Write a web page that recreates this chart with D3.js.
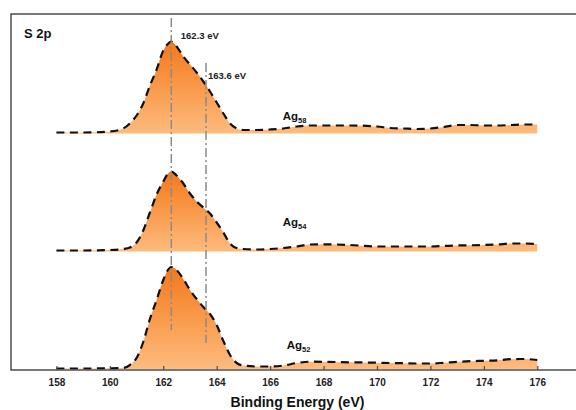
<!DOCTYPE html>
<html>
<head>
<meta charset="utf-8">
<script src="https://cdn.jsdelivr.net/npm/d3@7"></script>
<style>
  html, body { margin: 0; padding: 0; background: #fff; }
  svg { display: block; font-family: "Liberation Sans", Arial, sans-serif; }
</style>
</head>
<body>
<svg id="chart" width="576" height="410"></svg>
<script>
// S 2p XPS spectra of three Ag clusters (stacked, arbitrary intensity units)
const energy = [158, 159, 160, 160.5, 160.75, 161, 161.25, 161.5, 161.75, 162, 162.15, 162.3,
  162.5, 162.75, 163, 163.25, 163.5, 163.75, 164, 164.25, 164.5, 164.75, 165, 165.5, 166,
  166.5, 167, 167.5, 168, 169, 170, 170.5, 171, 171.5, 172, 172.5, 173, 173.5, 174, 174.5,
  175, 175.5, 176];

const ag58 = [1, 1, 2, 5, 10, 18, 30, 48, 64, 83, 89, 92,
  87, 77, 69, 61, 52, 42, 31, 20, 10, 5, 3.5, 3.5, 4,
  5, 7, 8, 8, 8, 7, 5.5, 5, 4.5, 5, 6.5, 8.5, 8.5, 8, 8,
  8.5, 9, 9];

const ag54 = [1, 1, 1.5, 2.5, 4, 9, 21, 39, 57, 70, 77, 80,
  76, 68, 58, 50, 44, 38, 29, 19, 8, 3.5, 2.5, 2, 2.5,
  3.5, 5, 7, 7.2, 6.5, 5, 5, 5, 5, 5, 5.5, 6, 6.2, 6.5, 7,
  8, 8, 7.5];

const ag52 = [0.5, 0.5, 0.7, 1, 4, 11, 27, 50, 69, 89, 98, 102,
  99, 90, 79, 70, 62, 55, 44, 28, 14, 6, 3.5, 2.5, 2.5,
  3.5, 6, 7.3, 7.2, 6.7, 6.3, 6, 5.8, 5.5, 5.5, 6.2, 7.2, 7.8, 8.2, 8.7,
  9.8, 10, 9];

const seriesNames = ["Ag58", "Ag54", "Ag52"];
const seriesValues = [ag58, ag54, ag52];
const stackOffsets = [236.5, 118.5, 1];          // vertical offset of each trace (a.u.)

const xTicks = [158, 160, 162, 164, 166, 168, 170, 172, 174, 176];
const xDomain = [156.3, 177.45];
const yDomain = [0, 356];

// peak positions marked with dash-dot guides, and their vertical extent (a.u.)
const peakEnergies = [162.3, 163.6];
const peakLabels = ["162.3 eV", "163.6 eV"];
const peakSpans = [[40, 352], [27, 307]];

// ---- layout ----
const svg = d3.select("#chart");
const plotLeft = 11, plotRight = 576, plotTop = 14, plotBottom = 370;

const x = d3.scaleLinear().domain(xDomain).range([plotLeft, plotRight]);
const y = d3.scaleLinear().domain(yDomain).range([plotBottom, plotTop]);

const defs = svg.append("defs");
const grad = defs.append("linearGradient")
  .attr("id", "peakFill")
  .attr("x1", 0).attr("y1", 0).attr("x2", 0).attr("y2", 1);
grad.append("stop").attr("offset", 0).attr("stop-color", "#f4771a");
grad.append("stop").attr("offset", 0.5).attr("stop-color", "#f99a4b");
grad.append("stop").attr("offset", 1).attr("stop-color", "#fdbb7e");

// filled traces
seriesValues.forEach((vals, i) => {
  const off = stackOffsets[i];
  const pts = energy.map((e, k) => [e, vals[k]]);
  const area = d3.area()
    .x(d => x(d[0]))
    .y0(y(off))
    .y1(d => y(off + d[1]))
    .curve(d3.curveMonotoneX);
  const line = d3.line()
    .x(d => x(d[0]))
    .y(d => y(off + d[1]))
    .curve(d3.curveMonotoneX);
  const g = svg.append("g").attr("class", "trace");
  g.append("path").attr("d", area(pts)).attr("fill", "url(#peakFill)");
  g.append("path").attr("d", line(pts))
    .attr("fill", "none")
    .attr("stroke", "#111")
    .attr("stroke-width", 2.2)
    .attr("stroke-dasharray", "8,5.5");
});

// dash-dot peak guides
peakEnergies.forEach((e, i) => {
  svg.append("line")
    .attr("x1", x(e)).attr("x2", x(e))
    .attr("y1", y(peakSpans[i][1])).attr("y2", y(peakSpans[i][0]))
    .attr("stroke", "#8a8a8a")
    .attr("stroke-width", 1.5)
    .attr("stroke-dasharray", "9,3,2,3");
});

// peak labels
const peakLabelPos = [{ dx: 9.5, v: 331.5 }, { dx: 2, v: 291.5 }];
peakLabels.forEach((t, i) => {
  svg.append("text")
    .attr("x", x(peakEnergies[i]) + peakLabelPos[i].dx)
    .attr("y", y(peakLabelPos[i].v))
    .attr("font-size", "9.5px")
    .attr("font-weight", "bold")
    .attr("fill", "#222")
    .text(t);
});

// trace labels with subscripts
const traceLabelPos = [{ e: 166.47, v: 14 }, { e: 166.47, v: 25.5 }, { e: 166.62, v: 19.7 }];
seriesNames.forEach((name, i) => {
  const t = svg.append("text")
    .attr("x", x(traceLabelPos[i].e))
    .attr("y", y(stackOffsets[i] + traceLabelPos[i].v))
    .attr("font-size", "11.5px")
    .attr("font-weight", "bold")
    .attr("fill", "#111");
  t.append("tspan").text(name.slice(0, 2));
  t.append("tspan").attr("font-size", "7.5px").attr("dy", 3).text(name.slice(2));
});

// axis with inward ticks
const xAxis = d3.axisBottom(x)
  .tickValues(xTicks)
  .tickFormat(d3.format("d"))
  .tickSizeInner(-4)
  .tickSizeOuter(0)
  .tickPadding(9);
const ax = svg.append("g").attr("transform", `translate(0,${plotBottom})`).call(xAxis);
ax.select(".domain").remove();
ax.selectAll(".tick line").attr("stroke", "#4d4d4d").attr("stroke-width", 1.2);
ax.selectAll(".tick text")
  .attr("font-family", "'Liberation Sans', Arial, sans-serif")
  .attr("font-size", "10px")
  .attr("font-weight", "bold")
  .attr("fill", "#222");

// frame: left, top and bottom edges
svg.append("path")
  .attr("d", `M${plotRight},${plotTop}H${plotLeft}V${plotBottom}H${plotRight}`)
  .attr("fill", "none")
  .attr("stroke", "#4d4d4d")
  .attr("stroke-width", 1.5);

// titles
svg.append("text")
  .attr("x", 24).attr("y", 38)
  .attr("font-size", "13px").attr("font-weight", "bold").attr("fill", "#111")
  .text("S 2p");

svg.append("text")
  .attr("x", 297.5).attr("y", 406.5)
  .attr("text-anchor", "middle")
  .attr("font-size", "14px").attr("font-weight", "bold").attr("fill", "#111")
  .text("Binding Energy (eV)");
</script>
</body>
</html>
